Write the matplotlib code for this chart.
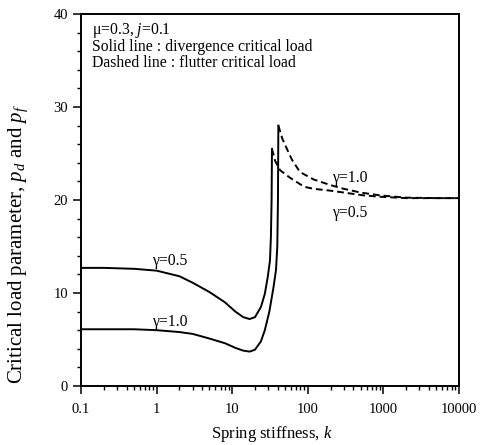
import numpy as np
import matplotlib
matplotlib.use('Agg')
from matplotlib import pyplot as plt
from matplotlib.ticker import LogLocator, NullFormatter, MultipleLocator

plt.rcParams['font.family'] = ['Liberation Serif', 'DejaVu Serif']
plt.rcParams['mathtext.fontset'] = 'custom'
plt.rcParams['mathtext.rm'] = 'Liberation Serif'
plt.rcParams['mathtext.it'] = 'Liberation Serif:italic'

# divergence (solid) curves
k_div_05 = [0.1, 0.2, 0.5, 1, 2, 3, 5, 8, 11, 14, 17, 20, 24, 27, 29.5, 31.6, 32.5, 33.2, 33.6]
p_div_05 = [12.7, 12.7, 12.6, 12.4, 11.8, 11.1, 10.1, 9.0, 8.0, 7.4, 7.2, 7.4, 8.5, 9.9, 11.7, 13.5, 16.0, 20.0, 25.5]

k_div_10 = [0.1, 0.2, 0.5, 1, 2, 3, 5, 8, 11, 14, 17, 20, 24, 27, 31, 35, 38, 39.5, 40.3, 40.8]
p_div_10 = [6.1, 6.1, 6.1, 6.0, 5.8, 5.6, 5.1, 4.6, 4.1, 3.8, 3.7, 3.9, 4.8, 6.0, 8.0, 10.5, 12.5, 15.0, 20.0, 28.0]

# flutter (dashed) curves
k_flu_05 = [33.6, 37, 43, 58, 79, 92, 120, 200, 300, 540, 900, 2000, 10000]
p_flu_05 = [25.5, 24.2, 23.2, 22.4, 21.7, 21.4, 21.2, 21.0, 20.8, 20.5, 20.35, 20.2, 20.2]

k_flu_10 = [40.8, 46, 55, 62, 79, 120, 200, 300, 500, 900, 2000, 5000, 10000]
p_flu_10 = [28.0, 26.6, 25.2, 24.3, 23.0, 22.2, 21.6, 21.2, 20.8, 20.5, 20.25, 20.2, 20.2]

xticks = [0.1, 1, 10, 100, 1000, 10000]
xticklabels = ['0.1', '1', '10', '100', '1000', '10000']
yticks = [0, 10, 20, 30, 40]

fig = plt.figure(figsize=(4.83, 4.45), dpi=100)
ax = fig.add_axes([0.168, 0.1326, 0.782, 0.836])

lw = 1.4
ax.plot(k_div_05, p_div_05, color='black', lw=lw)
ax.plot(k_div_10, p_div_10, color='black', lw=lw)
ax.plot(k_flu_05, p_flu_05, color='black', lw=lw, dashes=(3.5, 2))
ax.plot(k_flu_10, p_flu_10, color='black', lw=lw, dashes=(3.5, 2))

ax.set_xscale('log')
ax.set_xlim(0.1, 10000)
ax.set_ylim(0, 40)
ax.set_xticks(xticks)
ax.set_xticklabels(xticklabels)
ax.xaxis.set_minor_locator(LogLocator(base=10, subs=np.arange(2, 10)))
ax.xaxis.set_minor_formatter(NullFormatter())
ax.set_yticks(yticks)
ax.yaxis.set_minor_locator(MultipleLocator(2))

ax.tick_params(which='major', direction='out', length=6, width=1.1, labelsize=10.5, top=False, right=False)
ax.tick_params(which='minor', direction='out', length=3, width=1.0, top=False, right=False)
ax.tick_params(axis='x', pad=6)
for s in ax.spines.values():
    s.set_linewidth(1.4)

fig.text(272 / 483, 1 - 434 / 445, 'Spring stiffness, $k$', fontsize=12, ha='center', va='center')
fig.text(18 / 483, 1 - 244 / 445, 'Critical load parameter, $p_d$ and $p_f$', fontsize=15,
         rotation=90, ha='center', va='center')

fs = 11.3
ax.text(0.03, 0.955, r'μ=0.3, $j$=0.1', transform=ax.transAxes, fontsize=fs, va='center')
ax.text(0.03, 0.912, 'Solid line : divergence critical load', transform=ax.transAxes, fontsize=fs, va='center')
ax.text(0.03, 0.869, 'Dashed line : flutter critical load', transform=ax.transAxes, fontsize=fs, va='center')

ax.text(1.5, 13.4, 'γ=0.5', fontsize=fs, ha='center', va='center')
ax.text(1.5, 6.9, 'γ=1.0', fontsize=fs, ha='center', va='center')
ax.text(360, 22.4, 'γ=1.0', fontsize=fs, ha='center', va='center')
ax.text(360, 18.6, 'γ=0.5', fontsize=fs, ha='center', va='center')

fig.savefig('out.png', dpi=100)
